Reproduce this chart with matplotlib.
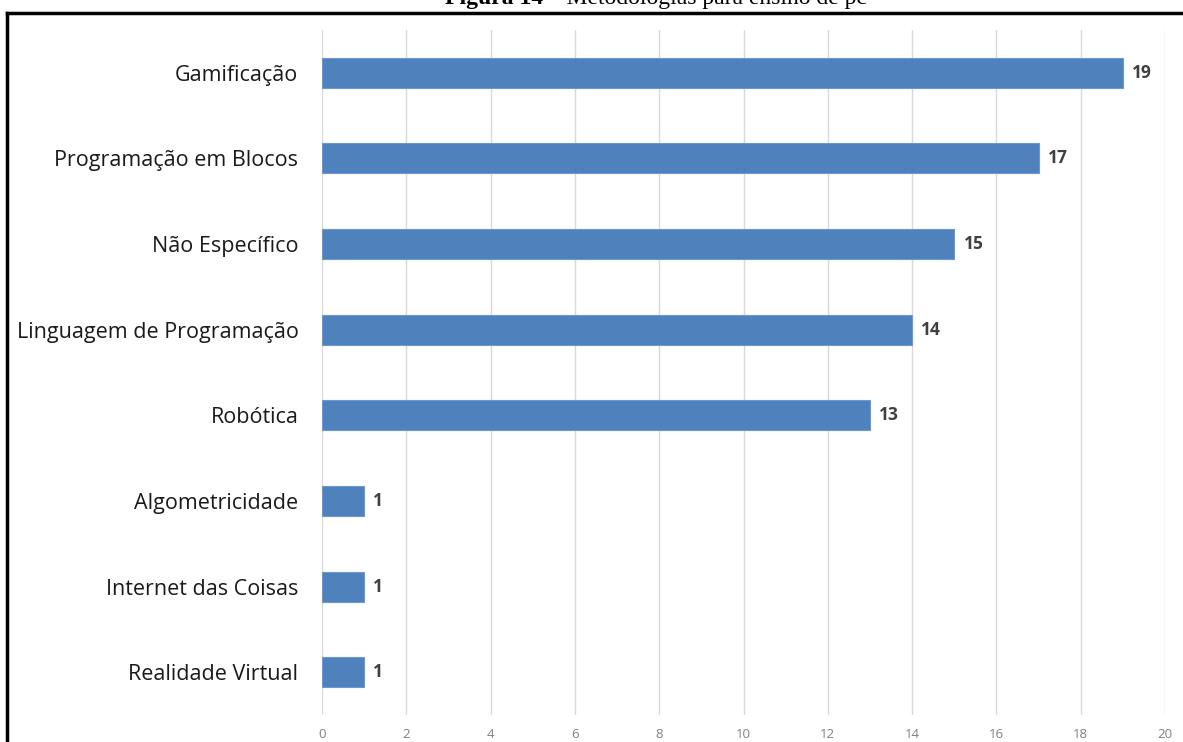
import matplotlib.pyplot as plt
from matplotlib.lines import Line2D

categories = ["Gamificação", "Programação em Blocos", "Não Específico",
              "Linguagem de Programação", "Robótica", "Algometricidade",
              "Internet das Coisas", "Realidade Virtual"]
values = [19, 17, 15, 14, 13, 1, 1, 1]
xticks = [0, 2, 4, 6, 8, 10, 12, 14, 16, 18, 20]

W, H = 1183, 742
fig = plt.figure(figsize=(W / 100, H / 100), dpi=100)
ax = fig.add_axes([322 / W, 1 - 715 / H, (1165 - 322) / W, (715 - 30) / H])

pos = list(range(len(categories)))
ax.barh(pos, values, height=0.35, color="#4f81bd", edgecolor="#6a98cf", linewidth=0.8, zorder=3)
for y, v in zip(pos, values):
    ax.text(v + 0.22, y, str(v), va="center", ha="left", fontsize=12.5,
            fontweight="bold", color="#404040", family="Open Sans")

ax.set_ylim(len(categories) - 0.5, -0.5)
ax.set_xlim(0, 20)
ax.set_yticks(pos)
ax.set_yticklabels(categories, fontsize=15.5, family="Open Sans", color="#1a1a1a")
ax.set_xticks(xticks)
ax.set_xticklabels([str(t) for t in xticks], fontsize=9.5, family="Open Sans", color="#808080")
ax.tick_params(axis="both", length=0)
ax.tick_params(axis="y", pad=17)
ax.tick_params(axis="x", pad=9)
ax.grid(axis="x", color="#d9d9d9", linewidth=1, zorder=0)
for s in ax.spines.values():
    s.set_visible(False)

# caption above the frame (partly cut off at the top edge)
cap_y = 1 - 4 / H
fig.text(543 / W, cap_y, "Figura 14", ha="right", va="baseline", fontsize=17,
         fontweight="bold", family="Liberation Serif")
fig.text(543 / W, cap_y, " – Metodologias para ensino de pc", ha="left", va="baseline",
         fontsize=17, family="Liberation Serif")

# frame around the chart
fig.add_artist(Line2D([7 / W, 1], [1 - 12.5 / H, 1 - 12.5 / H], color="black", lw=2.5,
                      transform=fig.transFigure))
fig.add_artist(Line2D([7 / W, 7 / W], [1 - 12.5 / H, 0], color="black", lw=2.5,
                      transform=fig.transFigure))

fig.savefig("out.png", dpi=100)
